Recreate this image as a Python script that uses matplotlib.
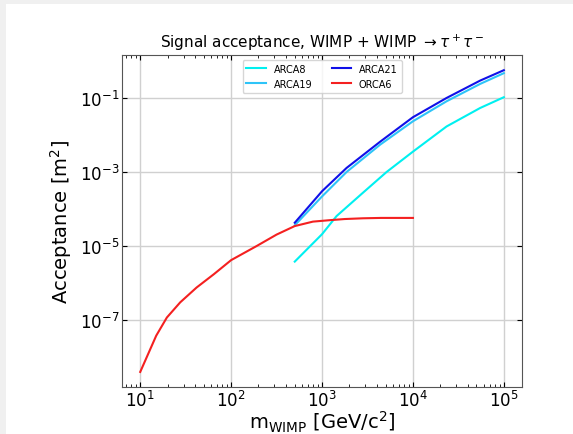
import numpy as np
import matplotlib
matplotlib.use('Agg')
import matplotlib.pyplot as plt
from matplotlib.patches import Rectangle
from matplotlib.ticker import NullLocator

# values (log10 of mass in GeV/c^2, log10 of acceptance in m^2)
orca6_logm = [1.0, 1.176, 1.293, 1.44, 1.62, 1.81, 2.0, 2.28, 2.50, 2.70, 2.90, 3.09, 3.25, 3.45, 3.65, 3.85, 4.0]
orca6_loga = [-8.40, -7.42, -6.93, -6.52, -6.12, -5.76, -5.38, -5.0, -4.69, -4.46, -4.34, -4.30, -4.27, -4.25, -4.24, -4.24, -4.24]

arca8_logm = [2.70, 3.0, 3.16, 3.45, 3.71, 4.0, 4.37, 4.74, 5.0]
arca8_loga = [-5.42, -4.68, -4.19, -3.56, -3.0, -2.45, -1.77, -1.27, -0.98]

arca19_logm = [2.70, 3.0, 3.27, 3.64, 4.0, 4.37, 4.74, 5.0]
arca19_loga = [-4.44, -3.66, -3.0, -2.26, -1.63, -1.09, -0.62, -0.33]

arca21_logm = [2.70, 3.0, 3.27, 3.64, 4.0, 4.37, 4.74, 5.0]
arca21_loga = [-4.37, -3.52, -2.89, -2.18, -1.52, -1.0, -0.53, -0.25]

ytick_vals = [1e-7, 1e-5, 1e-3, 1e-1]

fig = plt.figure(figsize=(5.73, 4.35), dpi=100)
fig.patch.set_facecolor('#f0f0f0')
fig.patches.append(Rectangle((6 / 573, 0), 1, 1 - 5 / 435, transform=fig.transFigure,
                             facecolor='white', edgecolor='none', zorder=-10))

ax = fig.add_axes([0.213, 0.108, 0.698, 0.763])
ax.set_zorder(1)

ax.plot(10 ** np.array(arca8_logm), 10 ** np.array(arca8_loga), color='#00f0f0', lw=1.5, label='ARCA8')
ax.plot(10 ** np.array(arca19_logm), 10 ** np.array(arca19_loga), color='#2ec4f8', lw=1.5, label='ARCA19')
ax.plot(10 ** np.array(arca21_logm), 10 ** np.array(arca21_loga), color='#1010e8', lw=1.5, label='ARCA21')
ax.plot(10 ** np.array(orca6_logm), 10 ** np.array(orca6_loga), color='#f42020', lw=1.5, label='ORCA6')

ax.set_xscale('log')
ax.set_yscale('log')
ax.set_yticks(ytick_vals)
ax.yaxis.set_minor_locator(NullLocator())
ax.grid(True, color='#d0d0d0', lw=1)
ax.tick_params(which='both', direction='in', top=True, right=True, labelsize=12, pad=2)
for s in ax.spines.values():
    s.set_color('#555555')

ax.set_title(r'Signal acceptance, WIMP + WIMP $\rightarrow \tau^+\tau^-$', fontsize=11)
ax.set_xlabel(r'm$_{\rm WIMP}$ [GeV/c$^2$]', fontsize=14, labelpad=-1)
ax.set_ylabel(r'Acceptance [m$^2$]', fontsize=14)

ax.legend(loc='upper center', ncol=2, fontsize=7)

fig.savefig('out.png', dpi=100, facecolor=fig.get_facecolor())
